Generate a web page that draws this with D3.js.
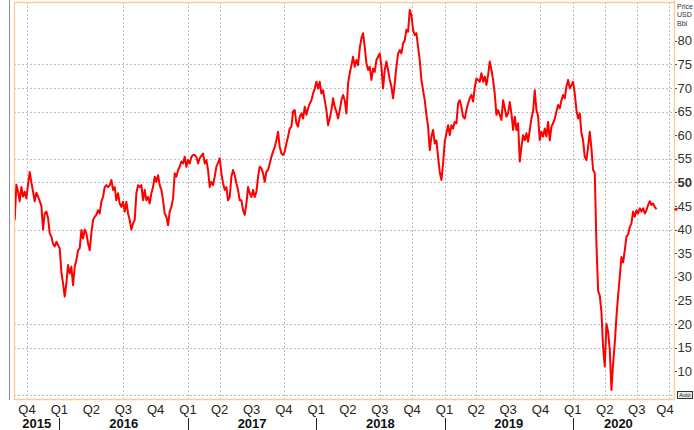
<!DOCTYPE html>
<html>
<head>
<meta charset="utf-8">
<script src="https://cdn.jsdelivr.net/npm/d3@7"></script>
<style>
  html, body { margin: 0; padding: 0; background: #fff; }
  svg { display: block; font-family: "Liberation Sans", Arial, sans-serif; }
</style>
</head>
<body>
<svg id="chart" width="694" height="430"></svg>
<script>
// ---------------- DATA ----------------
// Price (USD/Bbl), sampled at a regular step from the series start date
const seriesStart = "2015-08-27";
const stepDays = 4.743;
const prices = [
  42.0, 49.5, 48.0, 46.0, 49.0, 47.0, 48.0, 46.6, 49.5, 52.2, 50.0, 48.0, 46.0, 47.8, 47.0, 46.0, 45.0, 40.0, 43.4, 43.8,
  42.5, 39.2, 38.5, 37.0, 36.4, 37.4, 36.7, 36.0, 31.0, 28.6, 25.8, 28.6, 32.5, 30.7, 32.1, 28.2, 32.1, 33.5, 35.6, 36.0,
  39.9, 38.1, 40.0, 39.2, 37.1, 35.6, 39.2, 42.0, 42.7, 43.1, 44.1, 43.4, 45.9, 46.9, 49.0, 49.4, 49.0, 49.4, 50.5, 48.4,
  49.0, 46.2, 47.7, 45.5, 44.8, 45.9, 43.8, 45.9, 43.4, 42.0, 40.0, 41.3, 42.0, 47.7, 49.4, 49.0, 49.4, 46.2, 48.4, 46.2,
  46.9, 45.5, 47.7, 49.0, 51.2, 50.1, 51.5, 49.4, 48.4, 46.2, 43.4, 42.7, 40.9, 43.8, 44.8, 46.6, 51.9, 51.2, 52.6, 53.3,
  54.4, 54.0, 55.4, 53.3, 54.7, 54.0, 55.4, 55.8, 55.8, 55.4, 54.0, 55.1, 55.6, 56.1, 54.0, 54.7, 52.6, 49.0, 50.1, 49.4,
  51.2, 53.3, 54.2, 55.1, 51.9, 49.8, 48.4, 49.0, 46.2, 46.9, 51.2, 52.6, 51.5, 49.8, 48.4, 46.2, 46.2, 44.1, 43.1, 45.5,
  49.0, 47.7, 46.9, 48.4, 46.9, 48.0, 51.2, 53.3, 53.0, 51.9, 50.1, 52.3, 52.6, 54.0, 55.4, 56.5, 57.5, 58.9, 60.7, 57.5,
  56.1, 55.8, 56.5, 58.2, 59.7, 61.4, 61.8, 65.0, 65.3, 62.5, 61.8, 63.9, 64.6, 63.5, 66.0, 64.3, 65.7, 66.7, 67.4, 68.8,
  69.9, 71.3, 69.9, 71.3, 68.8, 69.5, 67.4, 65.3, 62.1, 63.5, 65.3, 67.8, 66.0, 65.0, 63.5, 65.3, 67.4, 68.5, 67.4, 64.6,
  71.0, 73.1, 74.8, 76.6, 74.5, 75.9, 74.8, 78.4, 80.5, 81.6, 78.7, 75.2, 73.8, 74.5, 71.7, 74.1, 73.4, 75.9, 76.6, 77.3,
  74.5, 69.9, 73.8, 75.6, 73.8, 71.7, 70.3, 67.8, 71.0, 74.5, 77.3, 78.0, 77.3, 79.4, 80.1, 82.3, 81.9, 86.5, 85.4, 82.3,
  81.2, 81.6, 78.7, 75.9, 71.7, 69.5, 67.4, 64.3, 61.8, 56.8, 59.7, 61.1, 58.2, 58.9, 55.4, 52.2, 50.5, 54.0, 58.6, 60.4,
  62.1, 60.0, 62.1, 61.4, 62.8, 62.5, 66.7, 67.4, 66.0, 63.9, 63.5, 65.3, 66.7, 67.8, 68.5, 67.1, 70.1, 72.0, 71.7, 71.3,
  73.1, 71.3, 72.4, 70.6, 72.7, 75.6, 73.8, 71.7, 68.8, 64.3, 65.3, 64.3, 63.2, 67.4, 65.7, 63.9, 64.6, 67.0, 64.6, 61.1,
  63.9, 61.1, 62.5, 54.4, 57.5, 60.0, 58.9, 60.4, 58.6, 61.1, 63.5, 65.0, 69.5, 65.3, 64.0, 58.9, 60.7, 59.7, 61.4, 59.7,
  62.8, 58.9, 61.8, 62.5, 63.5, 65.0, 66.4, 65.7, 67.4, 68.5, 67.8, 70.3, 71.7, 69.9, 70.6, 71.3, 68.8, 65.3, 63.5, 64.6,
  60.4, 58.9, 55.4, 54.7, 57.5, 60.7, 57.2, 52.6, 52.0, 37.0, 27.0, 26.0, 22.5, 15.0, 11.0, 20.0, 18.3, 14.5, 6.0, 11.6,
  16.0, 21.5, 26.0, 30.0, 34.2, 33.0, 35.6, 38.5, 39.0, 40.5, 41.3, 43.8, 42.7, 44.1, 43.4, 44.5, 43.8, 44.5, 43.4, 44.1,
  45.2, 46.0, 45.2, 45.5, 44.8, 44.3
];
const lastPrice = 44.3;

// axis content
const xDomain = ["2015-08-25", "2020-10-15"];
const yDomain = [4.1, 88.2];
const yTickValues = [10, 15, 20, 25, 30, 35, 40, 45, 50, 55, 60, 65, 70, 75, 80];
const yBoldTick = 50;
const yGridValues = [75, 70, 65, 55, 50, 40, 20, 15, 5];
const quarterStarts = ["2015-10-01","2016-01-01","2016-04-01","2016-07-01","2016-10-01",
  "2017-01-01","2017-04-01","2017-07-01","2017-10-01","2018-01-01","2018-04-01","2018-07-01","2018-10-01",
  "2019-01-01","2019-04-01","2019-07-01","2019-10-01","2020-01-01","2020-04-01","2020-07-01","2020-10-01"];
const quarterLabels = ["Q4","Q1","Q2","Q3","Q4","Q1","Q2","Q3","Q4","Q1","Q2","Q3","Q4",
  "Q1","Q2","Q3","Q4","Q1","Q2","Q3","Q4"];
const xGridDates = ["2015-10-01","2016-07-01","2017-01-01","2017-04-01","2017-10-01",
  "2018-07-01","2018-10-01","2019-01-01","2019-04-01","2019-10-01",
  "2020-01-01","2020-04-01","2020-07-01","2020-10-01"];
const years = [2015, 2016, 2017, 2018, 2019, 2020];
const unitLabels = ["Price", "USD", "Bbl"];

// ---------------- DRAW ----------------
const parse = d3.utcParse("%Y-%m-%d");
const svg = d3.select("#chart");
const L = 14, R = 674, T = 2, B = 399;
const orange = "#FDCB98";

const x = d3.scaleUtc().domain(xDomain.map(parse)).range([L, R]);
const y = d3.scaleLinear().domain(yDomain).range([B, T]);

const start = parse(seriesStart);
const dayMs = 86400000;
const data = prices.map((v, i) => ({ date: new Date(start.getTime() + i * stepDays * dayMs), value: v }));

// left grey frame line
svg.append("line").attr("x1", 9.5).attr("x2", 9.5).attr("y1", 0).attr("y2", 400)
  .attr("stroke", "#8a8a8a").attr("stroke-width", 1);

// grid
const grid = svg.append("g").attr("stroke", "#bdbdbd").attr("stroke-width", 1).attr("stroke-dasharray", "2,2");
grid.selectAll("line.h").data(yGridValues).join("line")
  .attr("x1", L).attr("x2", R - 2)
  .attr("y1", d => Math.round(y(d)) + 0.5).attr("y2", d => Math.round(y(d)) + 0.5);
grid.selectAll("line.v").data(xGridDates.map(parse)).join("line")
  .attr("x1", d => Math.round(x(d)) + 0.5).attr("x2", d => Math.round(x(d)) + 0.5)
  .attr("y1", T).attr("y2", B);

// plot frame (orange)
const frame = svg.append("g").attr("stroke", orange).attr("stroke-width", 1.3).attr("fill", "none");
frame.append("line").attr("x1", L + 0.5).attr("x2", L + 0.5).attr("y1", T).attr("y2", B + 1);
frame.append("line").attr("x1", L).attr("x2", R + 1).attr("y1", T + 0.5).attr("y2", T + 0.5);
frame.append("line").attr("x1", L).attr("x2", R + 1).attr("y1", B + 0.5).attr("y2", B + 0.5);
frame.append("line").attr("x1", R + 0.5).attr("x2", R + 0.5).attr("y1", 0).attr("y2", B + 1);

// price line
svg.append("defs").append("clipPath").attr("id", "clip")
  .append("rect").attr("x", L + 1).attr("y", T).attr("width", R - L - 1).attr("height", B - T);
svg.append("path").datum(data)
  .attr("clip-path", "url(#clip)")
  .attr("fill", "none").attr("stroke", "#FF0000").attr("stroke-width", 2)
  .attr("stroke-linejoin", "round")
  .attr("d", d3.line().x(d => x(d.date)).y(d => y(d.value)));

// right axis
const ra = svg.append("g");
ra.selectAll("line").data(yTickValues).join("line")
  .attr("x1", R + 1).attr("x2", R + 3)
  .attr("y1", d => Math.round(y(d)) + 0.5).attr("y2", d => Math.round(y(d)) + 0.5)
  .attr("stroke", "#555");
ra.selectAll("text").data(yTickValues).join("text")
  .attr("x", R + 3.5).attr("y", d => y(d)).attr("dy", "0.36em")
  .attr("font-size", 13).attr("fill", "#333")
  .attr("font-weight", d => d === yBoldTick ? "bold" : "normal")
  .text(d => d);
ra.selectAll("text.u").data(unitLabels).join("text")
  .attr("x", R + 3).attr("y", (d, i) => 8.5 + i * 8.5)
  .attr("font-size", 7).attr("fill", "#333").text(d => d);
// last price marker
ra.append("circle").attr("cx", R + 2).attr("cy", y(lastPrice)).attr("r", 1.6).attr("fill", "#FF0000");
// Auto box
ra.append("rect").attr("x", R + 3.5).attr("y", 391.5).attr("width", 15).attr("height", 7)
  .attr("fill", "#e8e8e8").attr("stroke", "#333").attr("stroke-width", 1);
ra.append("text").attr("x", R + 11).attr("y", 397.3).attr("text-anchor", "middle")
  .attr("font-size", 5.5).attr("fill", "#222").text("Auto");

// bottom axis: quarter labels
const qd = quarterStarts.map(parse);
svg.append("g").selectAll("text").data(qd).join("text")
  .attr("x", d => Math.min(x(d), R - 9))
  .attr("y", 414).attr("text-anchor", "middle")
  .attr("font-size", 13).attr("fill", "#222")
  .text((d, i) => quarterLabels[i]);

// year separators and labels
const d0 = x.domain()[0], d1 = x.domain()[1];
const ys = svg.append("g");
years.slice(1).forEach(yr => {
  const xx = Math.round(x(new Date(Date.UTC(yr, 0, 1)))) + 0.5;
  ys.append("line").attr("x1", xx).attr("x2", xx).attr("y1", 418).attr("y2", 430)
    .attr("stroke", "#222").attr("stroke-width", 1);
});
ys.selectAll("text").data(years).join("text")
  .attr("x", yr => {
    const a = Math.max(x(new Date(Date.UTC(yr, 0, 1))), x(d0));
    const b = Math.min(x(new Date(Date.UTC(yr + 1, 0, 1))), x(d1) - 10);
    return (a + b) / 2;
  })
  .attr("y", 427.5).attr("text-anchor", "middle")
  .attr("font-size", 13).attr("font-weight", "bold").attr("fill", "#111")
  .text(d => d);
</script>
</body>
</html>
